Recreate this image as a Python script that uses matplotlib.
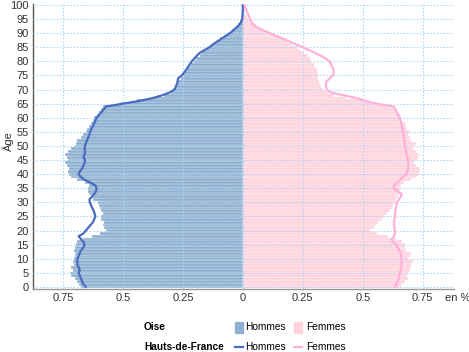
import matplotlib.pyplot as plt
import numpy as np
from matplotlib.patches import Rectangle
from matplotlib.lines import Line2D

plt.rcParams['font.family'] = ['Liberation Sans Narrow', 'Liberation Sans', 'DejaVu Sans']

ages = np.arange(0, 101)

# Oise, share of population per age (%)
oise_hommes = [
    0.675, 0.685, 0.69, 0.70, 0.715, 0.72, 0.71, 0.715, 0.705, 0.71,
    0.705, 0.70, 0.70, 0.705, 0.70, 0.695, 0.69, 0.665, 0.63, 0.595,
    0.57, 0.58, 0.585, 0.58, 0.59, 0.59, 0.585, 0.59, 0.595, 0.60,
    0.605, 0.625, 0.635, 0.64, 0.645, 0.645, 0.64, 0.66, 0.69, 0.715,
    0.725, 0.73, 0.725, 0.735, 0.74, 0.73, 0.735, 0.74, 0.73, 0.715,
    0.70, 0.695, 0.69, 0.675, 0.665, 0.655, 0.65, 0.64, 0.635, 0.625,
    0.62, 0.61, 0.60, 0.59, 0.585, 0.51, 0.44, 0.38, 0.33, 0.30,
    0.29, 0.285, 0.28, 0.27, 0.26, 0.25, 0.24, 0.235, 0.225, 0.215,
    0.205, 0.195, 0.18, 0.17, 0.155, 0.14, 0.125, 0.11, 0.095, 0.08,
    0.06, 0.045, 0.03, 0.02, 0.013, 0.008, 0.005, 0.003, 0.002, 0.001,
    0.001]
oise_femmes = [
    0.66, 0.665, 0.675, 0.69, 0.685, 0.69, 0.695, 0.70, 0.70, 0.71,
    0.69, 0.695, 0.70, 0.68, 0.675, 0.675, 0.665, 0.64, 0.605, 0.56,
    0.53, 0.545, 0.555, 0.565, 0.58, 0.59, 0.60, 0.615, 0.62, 0.625,
    0.635, 0.64, 0.645, 0.65, 0.65, 0.655, 0.66, 0.67, 0.70, 0.72,
    0.735, 0.74, 0.74, 0.72, 0.715, 0.725, 0.73, 0.735, 0.72, 0.71,
    0.715, 0.72, 0.70, 0.695, 0.69, 0.695, 0.685, 0.68, 0.675, 0.665,
    0.66, 0.655, 0.645, 0.63, 0.615, 0.555, 0.50, 0.43, 0.38, 0.35,
    0.335, 0.325, 0.32, 0.318, 0.315, 0.315, 0.31, 0.308, 0.30, 0.295,
    0.285, 0.28, 0.27, 0.255, 0.24, 0.225, 0.205, 0.19, 0.165, 0.14,
    0.115, 0.09, 0.065, 0.045, 0.03, 0.02, 0.015, 0.01, 0.007, 0.005,
    0.004]

# Hauts-de-France
hdf_hommes = [
    0.655, 0.665, 0.67, 0.675, 0.68, 0.685, 0.68, 0.685, 0.69, 0.69,
    0.69, 0.685, 0.68, 0.675, 0.665, 0.66, 0.665, 0.675, 0.685, 0.665,
    0.655, 0.645, 0.635, 0.625, 0.62, 0.615, 0.618, 0.622, 0.628, 0.633,
    0.638, 0.64, 0.63, 0.62, 0.612, 0.61, 0.615, 0.635, 0.66, 0.675,
    0.685, 0.68, 0.67, 0.665, 0.66, 0.658, 0.665, 0.66, 0.658, 0.66,
    0.658, 0.655, 0.65, 0.645, 0.64, 0.637, 0.632, 0.625, 0.62, 0.615,
    0.61, 0.60, 0.59, 0.58, 0.57, 0.50, 0.43, 0.375, 0.335, 0.305,
    0.285, 0.28, 0.275, 0.272, 0.27, 0.255, 0.245, 0.237, 0.229, 0.221,
    0.213, 0.203, 0.192, 0.18, 0.16, 0.14, 0.125, 0.108, 0.09, 0.072,
    0.054, 0.04, 0.027, 0.015, 0.007, 0.003, 0.002, 0.001, 0.001, 0.0,
    0.0]
hdf_femmes = [
    0.633, 0.64, 0.645, 0.65, 0.652, 0.655, 0.658, 0.66, 0.662, 0.662,
    0.66, 0.66, 0.658, 0.652, 0.645, 0.64, 0.625, 0.62, 0.63, 0.634,
    0.633, 0.632, 0.63, 0.63, 0.632, 0.633, 0.634, 0.636, 0.638, 0.64,
    0.642, 0.65, 0.658, 0.662, 0.645, 0.628, 0.63, 0.642, 0.655, 0.668,
    0.68, 0.686, 0.688, 0.69, 0.688, 0.688, 0.685, 0.682, 0.68, 0.678,
    0.675, 0.675, 0.673, 0.672, 0.67, 0.668, 0.665, 0.662, 0.66, 0.657,
    0.654, 0.648, 0.642, 0.635, 0.628, 0.557, 0.51, 0.474, 0.417, 0.365,
    0.35, 0.347, 0.345, 0.35, 0.362, 0.375, 0.378, 0.378, 0.372, 0.368,
    0.362, 0.345, 0.325, 0.30, 0.275, 0.25, 0.222, 0.196, 0.168, 0.14,
    0.112, 0.085, 0.06, 0.045, 0.035, 0.03, 0.025, 0.02, 0.015, 0.01,
    0.006]

x_ticks = [-0.75, -0.5, -0.25, 0, 0.25, 0.5, 0.75]
x_tick_labels = ['0.75', '0.5', '0.25', '0', '0.25', '0.5', '0.75']

col_h_bar = '#8eafd1'
col_f_bar = '#ffd3de'
col_h_line = '#4a6cbf'
col_f_line = '#ffb0d8'
grid_col = '#a9d4f0'

fig = plt.figure(figsize=(4.69, 3.52), dpi=100)
ax = fig.add_axes([0.0704, 0.179, 0.8976, 0.811])

ax.barh(ages, -np.array(oise_hommes), height=1.0, color=col_h_bar,
        edgecolor='white', linewidth=0.2, zorder=1)
ax.barh(ages, oise_femmes, height=1.0, color=col_f_bar,
        edgecolor='white', linewidth=0.2, zorder=1)

ax.plot(-np.array(hdf_hommes), ages, color=col_h_line, lw=1.6, zorder=4)
ax.plot(hdf_femmes, ages, color=col_f_line, lw=1.6, zorder=4)

ax.set_xlim(-0.875, 0.88)
ax.set_ylim(-0.7, 100.5)
ax.set_yticks(np.arange(0, 101, 5))
ax.set_xticks(x_ticks)
ax.set_xticklabels(x_tick_labels)
ax.tick_params(length=0, labelsize=8, colors='#333333', pad=3)
ax.grid(True, color=grid_col, linestyle=(0, (1.5, 1.5)), lw=0.8, alpha=0.9, zorder=3)
ax.set_axisbelow(False)
for s in ['top', 'right']:
    ax.spines[s].set_visible(False)
ax.spines['left'].set_color('#555555')
ax.spines['bottom'].set_color('#999999')
ax.spines['left'].set_linewidth(1.0)
ax.spines['bottom'].set_linewidth(1.0)

fig.text(0.017, 0.60, 'Âge', rotation=90, fontsize=8, color='#333333',
         ha='center', va='center')
fig.text(0.976, 0.153, 'en %', fontsize=8, color='#333333', ha='center', va='center')

# legend
row1, row2 = 0.070, 0.014
lfs = 7.3
fig.text(0.307, row1, 'Oise', fontsize=lfs, fontweight='bold', ha='left', va='center')
fig.text(0.307, row2, 'Hauts-de-France', fontsize=lfs, fontweight='bold', ha='left', va='center')
fig.add_artist(Rectangle((0.501, row1 - 0.015), 0.017, 0.03, transform=fig.transFigure,
                         color=col_h_bar))
fig.add_artist(Rectangle((0.627, row1 - 0.015), 0.017, 0.03, transform=fig.transFigure,
                         color=col_f_bar))
fig.text(0.523, row1, 'Hommes', fontsize=lfs, ha='left', va='center')
fig.text(0.652, row1, 'Femmes', fontsize=lfs, ha='left', va='center')
fig.add_artist(Line2D([0.501, 0.518], [row2, row2], transform=fig.transFigure,
                      color=col_h_line, lw=1.6))
fig.add_artist(Line2D([0.627, 0.644], [row2, row2], transform=fig.transFigure,
                      color=col_f_line, lw=1.6))
fig.text(0.523, row2, 'Hommes', fontsize=lfs, ha='left', va='center')
fig.text(0.652, row2, 'Femmes', fontsize=lfs, ha='left', va='center')

fig.savefig('out.png', dpi=100)
